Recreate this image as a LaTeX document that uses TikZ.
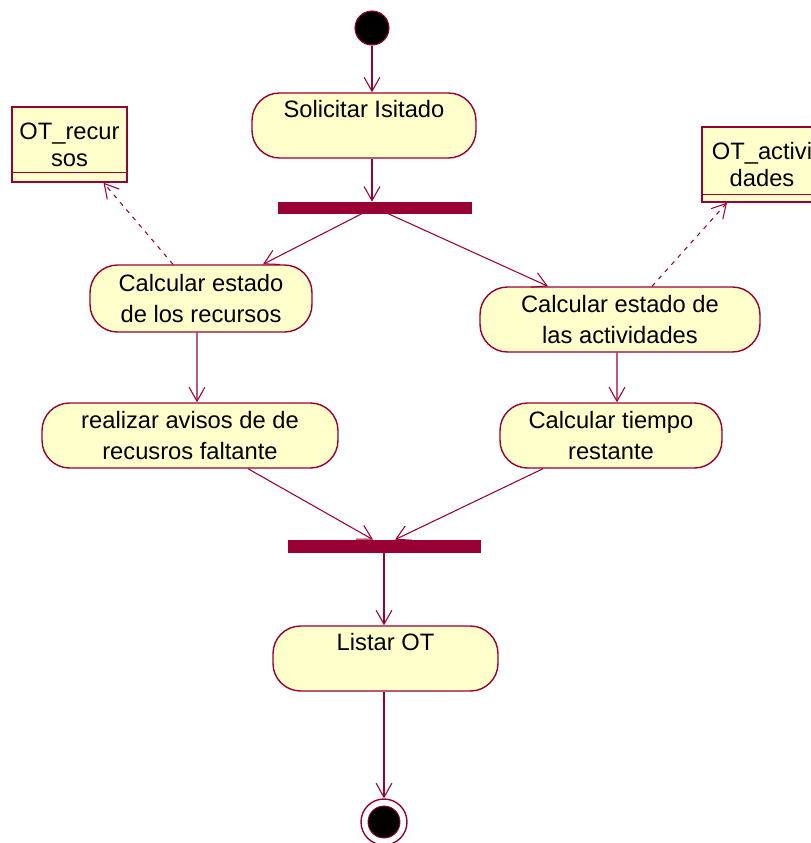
\documentclass[tikz,border=0pt]{standalone}
\usepackage{fontspec}
\setmainfont{Liberation Sans}
\usetikzlibrary{shapes, arrows.meta, positioning}

\definecolor{rosered}{RGB}{153,0,51}
\definecolor{roseyellow}{RGB}{255,255,204}

\tikzset{
  act/.style={draw=rosered, fill=roseyellow, line width=0.8pt, rounded corners=0.55cm,
    align=center, inner sep=0pt, font=\fontsize{13.5}{18}\selectfont},
  actone/.style={act, text height=10pt, text depth=19pt},
  objbox/.style={draw=rosered, fill=roseyellow, line width=0.8pt, align=center,
    inner sep=0pt, font=\fontsize{13.5}{15.5}\selectfont},
  syncbar/.style={fill=rosered, draw=rosered, inner sep=0pt},
  flow/.style={draw=rosered, line width=0.6pt, -{Straight Barb[length=8pt,width=9pt]}},
  dep/.style={flow, dash pattern=on 2.5pt off 3pt}
}

\begin{document}
\begin{tikzpicture}[x=0.02cm, y=-0.02cm]
                \useasboundingbox (0,0) rectangle (811,843);
                \clip (0,0) rectangle (811,843);
                % start and end states
                \node[circle, fill=black, draw=rosered, line width=0.6pt, minimum size=0.68cm, inner sep=0pt] (start) at (372,28) {};
                \node[circle, draw=rosered, fill=white, line width=0.8pt, minimum size=0.92cm, inner sep=0pt] (final) at (384,822) {};
                \fill[black, draw=rosered, line width=0.5pt] (final.center) circle (0.32cm);
                % activities
                \node[actone, minimum width=4.48cm, minimum height=1.3cm] (solicitar) at (364,125.5) {Solicitar Isitado};
                \node[act, minimum width=4.44cm, minimum height=1.34cm] (recursos) at (201,298.5) {Calcular estado\\de los recursos};
                \node[act, minimum width=5.6cm, minimum height=1.3cm] (actividades) at (620,319.5) {Calcular estado de\\las actividades};
                \node[act, minimum width=5.92cm, minimum height=1.3cm] (avisos) at (190,435.5) {realizar avisos de de\\recusros faltante};
                \node[act, minimum width=4.44cm, minimum height=1.3cm] (tiempo) at (611,435.5) {Calcular tiempo\\restante};
                \node[actone, minimum width=4.5cm, minimum height=1.3cm] (listar) at (385.5,658.5) {Listar OT};
                % fork and join
                \node[syncbar, minimum width=3.86cm, minimum height=0.22cm] (fork) at (374.5,207.5) {};
                \node[syncbar, minimum width=3.84cm, minimum height=0.24cm] (join) at (384,546) {};
                % object flows
                \node[objbox, minimum width=2.3cm, minimum height=1.5cm] (otrecursos) at (69.5,144.5) {OT\_recur\\sos};
                \node[objbox, minimum width=2.4cm, minimum height=1.5cm] (otactividades) at (762,164.5) {OT\_activi\\dades};
                \draw[rosered, line width=0.8pt] ([yshift=0.2cm]otrecursos.south west) -- ([yshift=0.2cm]otrecursos.south east);
                \draw[rosered, line width=0.8pt] ([yshift=0.16cm]otactividades.south west) -- ([yshift=0.16cm]otactividades.south east);
                % transitions
                \draw[flow] (start.south) -- (start.south |- solicitar.north);
                \draw[flow] (solicitar.south -| start) -- (fork.north -| start);
                \draw[flow] ([xshift=-0.24cm]fork.south) -- ([xshift=1.24cm]recursos.north);
                \draw[flow] ([xshift=0.26cm]fork.south) -- ([xshift=-1.44cm]actividades.north);
                \draw[flow] ([xshift=-0.08cm]recursos.south) -- ([xshift=0.14cm]avisos.north);
                \draw[flow] ([xshift=-0.06cm]actividades.south) -- ([xshift=0.12cm]tiempo.north);
                \draw[flow] ([xshift=1.16cm]avisos.south) -- ([xshift=-0.22cm]join.north);
                \draw[flow] ([xshift=-1.36cm]tiempo.south) -- ([xshift=0.22cm]join.north);
                \draw[flow] (join.south) -- (join.south |- listar.north);
                \draw[flow] (listar.south -| final) -- (final.north);
                % dependencies on the objects
                \draw[dep] ([xshift=-0.56cm]recursos.north) -- ([xshift=0.68cm]otrecursos.south);
                \draw[dep] ([xshift=0.64cm]actividades.north) -- ([xshift=-0.7cm]otactividades.south);
            \end{tikzpicture}
\end{document}
